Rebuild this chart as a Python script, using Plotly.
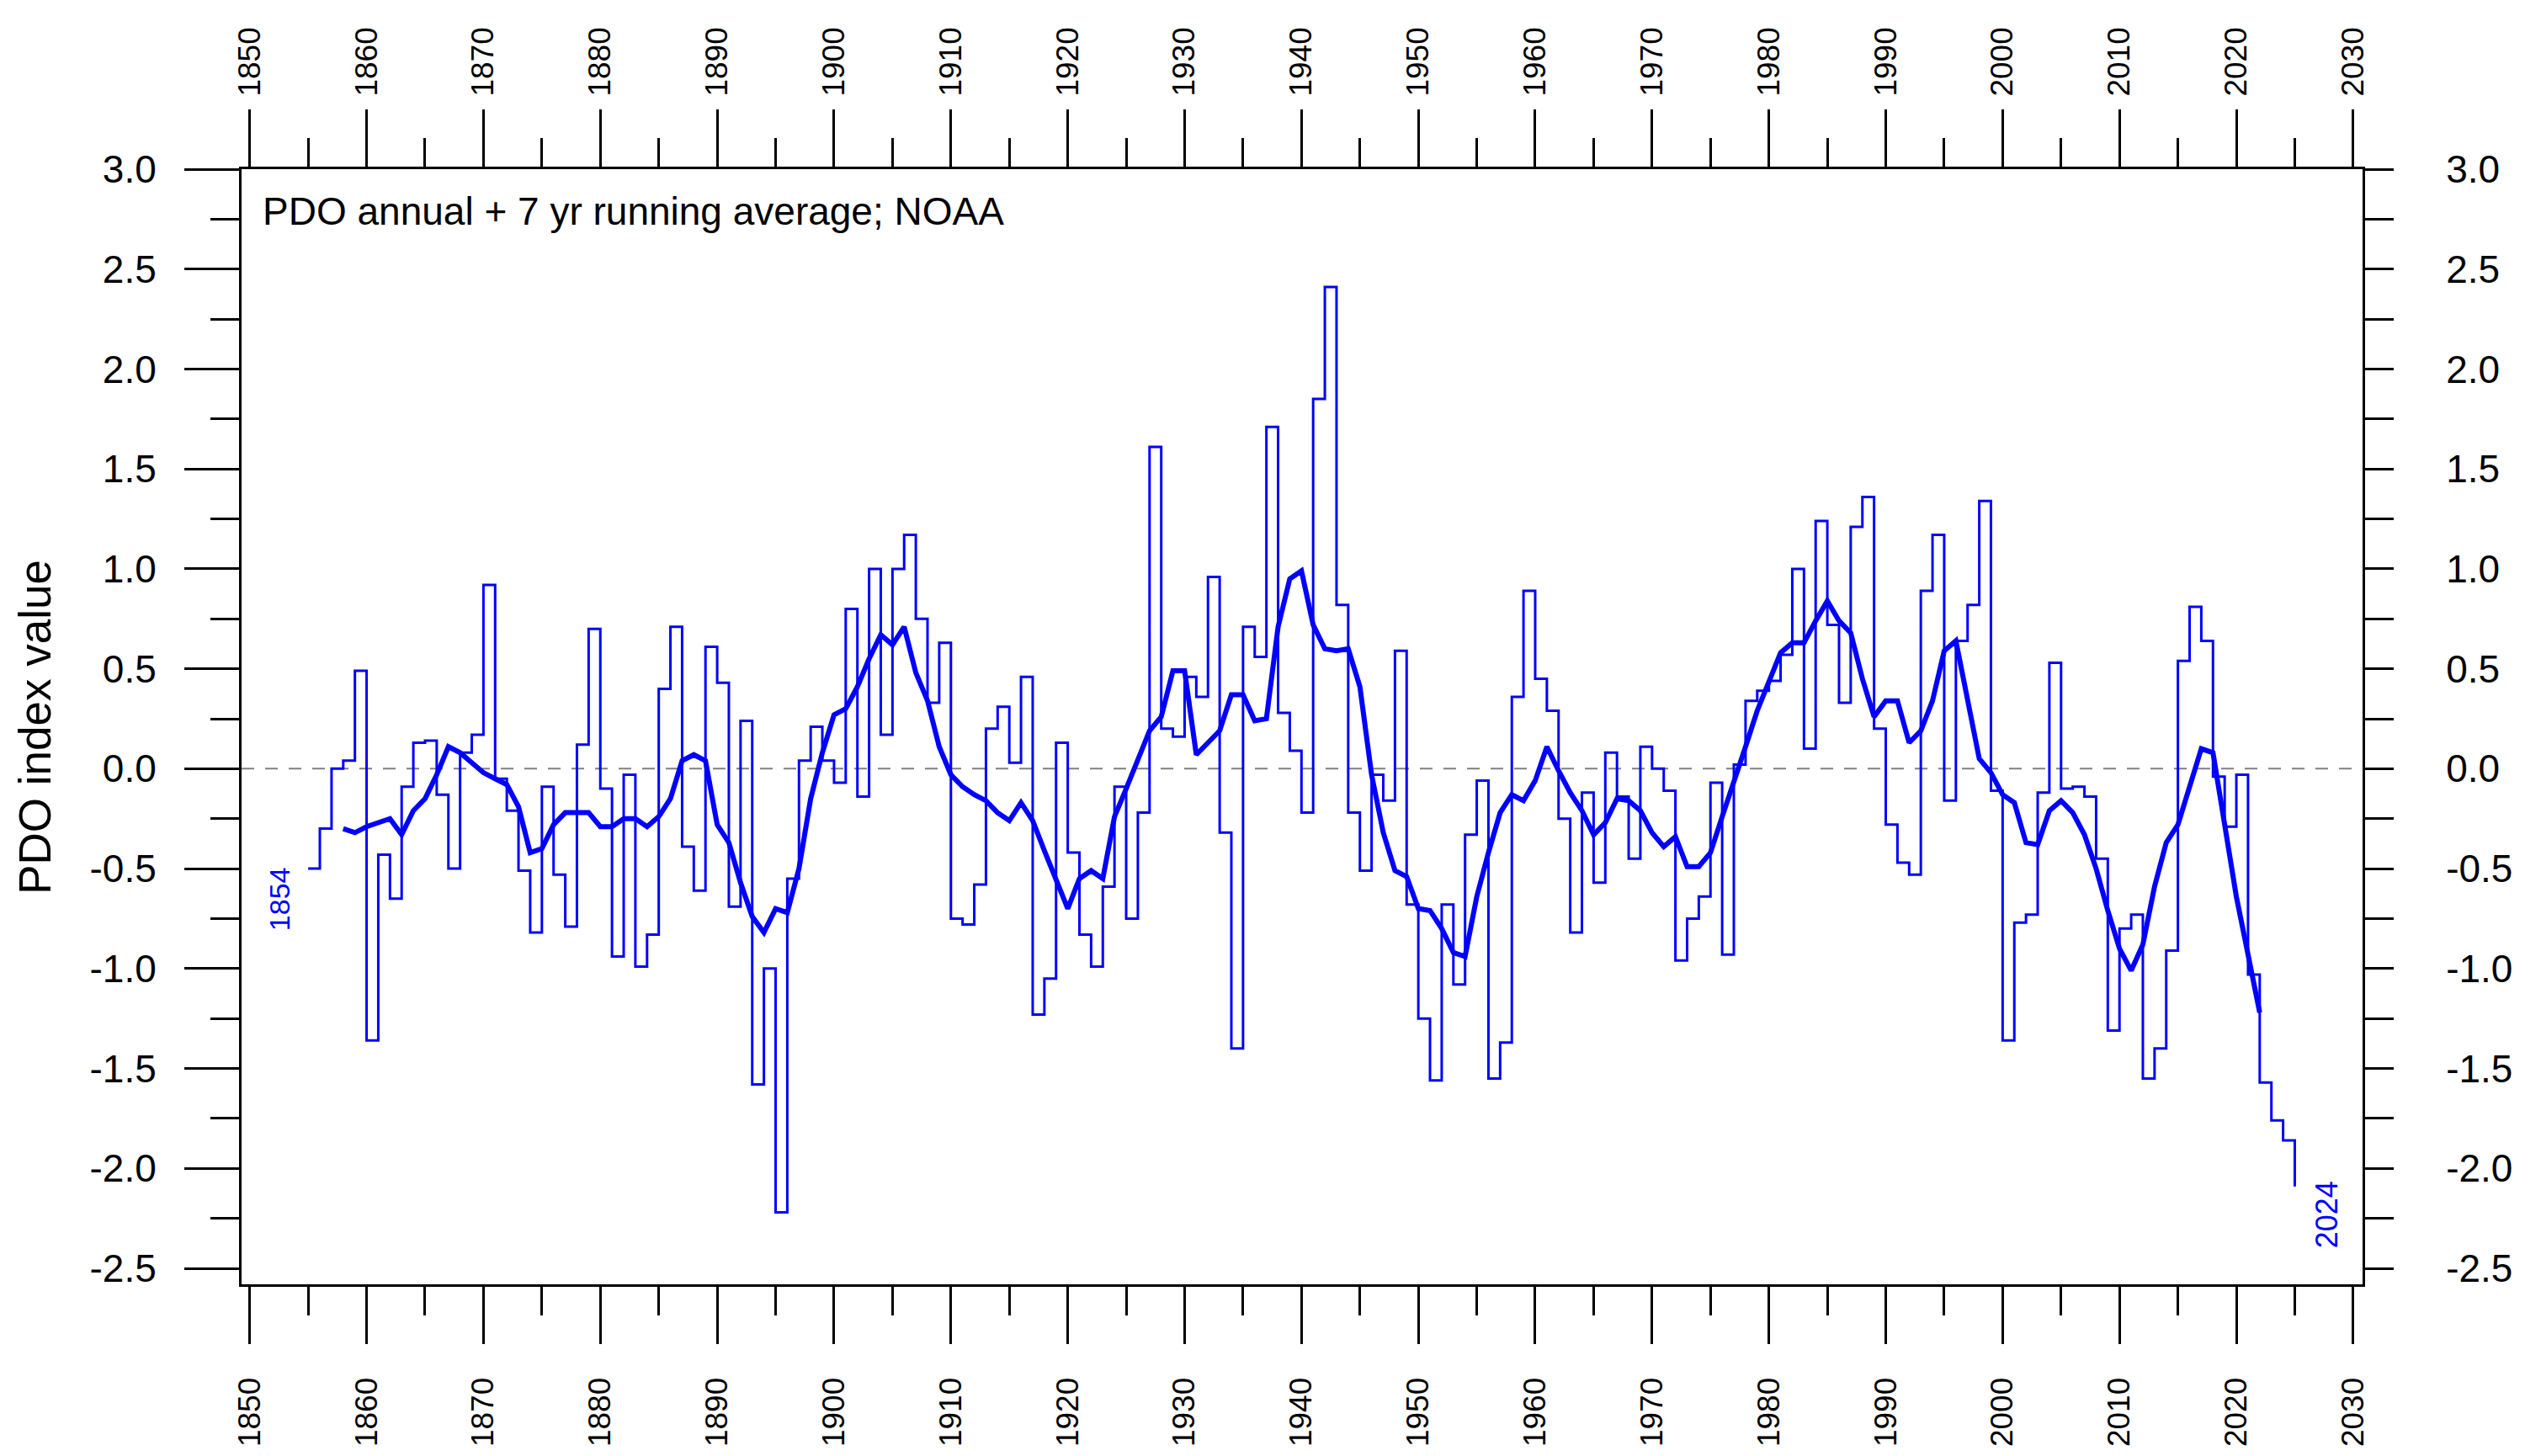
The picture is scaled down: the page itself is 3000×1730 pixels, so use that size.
import plotly.graph_objects as go

# ---- data ----
years = list(range(1854, 2025))
pdo_annual = [
    -0.50, -0.30, 0.00, 0.04, 0.49, -1.36, -0.43, -0.65, -0.09, 0.13,   # 1854-1863
    0.14, -0.13, -0.50, 0.08, 0.17, 0.92, -0.05, -0.21, -0.51, -0.82,   # 1864-1873
    -0.09, -0.53, -0.79, 0.12, 0.70, -0.10, -0.94, -0.03, -0.99, -0.83, # 1874-1883
    0.40, 0.71, -0.39, -0.61, 0.61, 0.43, -0.69, 0.24, -1.58, -1.00,    # 1884-1893
    -2.22, -0.55, 0.04, 0.21, 0.04, -0.07, 0.80, -0.14, 1.00, 0.17,     # 1894-1903
    1.00, 1.17, 0.75, 0.33, 0.63, -0.75, -0.78, -0.58, 0.20, 0.31,      # 1904-1913
    0.03, 0.46, -1.23, -1.05, 0.13, -0.42, -0.83, -0.99, -0.59, -0.09,  # 1914-1923
    -0.75, -0.22, 1.61, 0.20, 0.16, 0.46, 0.36, 0.96, -0.32, -1.40,     # 1924-1933
    0.71, 0.56, 1.71, 0.28, 0.09, -0.22, 1.85, 2.41, 0.82, -0.22,       # 1934-1943
    -0.51, -0.03, -0.16, 0.59, -0.68, -1.25, -1.56, -0.68, -1.08, -0.33,# 1944-1953
    -0.06, -1.55, -1.37, 0.36, 0.89, 0.45, 0.29, -0.25, -0.82, -0.12,   # 1954-1963
    -0.57, 0.08, -0.14, -0.45, 0.11, 0.00, -0.11, -0.96, -0.75, -0.64,  # 1964-1973
    -0.07, -0.93, 0.02, 0.34, 0.39, 0.44, 0.57, 1.00, 0.10, 1.24,       # 1974-1983
    0.72, 0.33, 1.21, 1.36, 0.20, -0.28, -0.47, -0.53, 0.89, 1.17,      # 1984-1993
    -0.16, 0.64, 0.82, 1.34, -0.11, -1.36, -0.77, -0.73, -0.12, 0.53,   # 1994-2003
    -0.10, -0.09, -0.14, -0.45, -1.31, -0.80, -0.73, -1.55, -1.40, -0.91,  # 2004-2013
    0.54, 0.81, 0.64, -0.04, -0.29, -0.03, -1.03, -1.57, -1.76, -1.86,  # 2014-2023
    -2.09,                                                              # 2024
]

# 7-yr running average, centre years 1857-2021
mean_years = list(range(1857, 2022))
pdo_7yr = [
    -0.30, -0.32, -0.29, -0.27, -0.25, -0.33, -0.21, -0.15, -0.03, 0.11,   # 1857-1866
    0.08, 0.03, -0.02, -0.05, -0.08, -0.19, -0.42, -0.40, -0.28, -0.22,    # 1867-1876
    -0.22, -0.22, -0.29, -0.29, -0.25, -0.25, -0.29, -0.24, -0.15, 0.04,   # 1877-1886
    0.07, 0.04, -0.28, -0.37, -0.57, -0.74, -0.82, -0.70, -0.72, -0.50,    # 1887-1896
    -0.15, 0.08, 0.27, 0.30, 0.41, 0.55, 0.67, 0.62, 0.71, 0.48,           # 1897-1906
    0.34, 0.11, -0.03, -0.09, -0.13, -0.16, -0.22, -0.26, -0.17, -0.26,    # 1907-1916
    -0.41, -0.55, -0.70, -0.55, -0.51, -0.55, -0.24, -0.10, 0.05, 0.19,    # 1917-1926
    0.26, 0.49, 0.49, 0.07, 0.13, 0.19, 0.37, 0.37, 0.24, 0.25,            # 1927-1936
    0.71, 0.95, 0.99, 0.72, 0.60, 0.59, 0.60, 0.41, -0.03, -0.32,          # 1937-1946
    -0.51, -0.54, -0.70, -0.71, -0.80, -0.92, -0.94, -0.64, -0.42, -0.22,  # 1947-1956
    -0.13, -0.16, -0.06, 0.11, -0.01, -0.12, -0.21, -0.33, -0.27, -0.15,   # 1957-1966
    -0.16, -0.21, -0.32, -0.39, -0.34, -0.49, -0.49, -0.42, -0.24, -0.07,  # 1967-1976
    0.11, 0.29, 0.43, 0.58, 0.63, 0.63, 0.74, 0.84, 0.74, 0.68,            # 1977-1986
    0.45, 0.26, 0.34, 0.34, 0.13, 0.19, 0.34, 0.59, 0.64, 0.36,            # 1987-1996
    0.05, -0.02, -0.13, -0.17, -0.37, -0.38, -0.21, -0.16, -0.22, -0.33,   # 1997-2006
    -0.50, -0.71, -0.90, -1.01, -0.88, -0.59, -0.37, -0.28, -0.09, 0.10,   # 2007-2016
    0.08, -0.28, -0.64, -0.93, -1.22,                                      # 2017-2021
]

y_tickvals = [3.0, 2.5, 2.0, 1.5, 1.0, 0.5, 0.0, -0.5, -1.0, -1.5, -2.0, -2.5]
x_tickvals = list(range(1850, 2031, 10))

title_text = "PDO annual + 7 yr running average; NOAA"
first_label, last_label = "1854", "2024"

BLUE = "#0000FF"
FONT = "Arial, Liberation Sans, sans-serif"

# the chart draws each annual value as a step starting one year after its label year
step_x = [y + 1 for y in years]
mean_x = [y + 1 for y in mean_years]

fig = go.Figure()
fig.add_trace(go.Scatter(x=step_x, y=pdo_annual, mode="lines",
                         line=dict(color=BLUE, width=3, shape="hv"),
                         showlegend=False, hoverinfo="skip"))
fig.add_trace(go.Scatter(x=mean_x, y=pdo_7yr, mode="lines", xaxis="x2", yaxis="y2",
                         line=dict(color=BLUE, width=6),
                         showlegend=False, hoverinfo="skip"))

X_RANGE = [1849.3, 2030.8]
Y_RANGE = [-2.58, 3.0]

xcommon = dict(range=X_RANGE, tickmode="array", tickvals=x_tickvals,
               ticktext=[str(v) for v in x_tickvals], ticks="outside", ticklen=68,
               tickwidth=3, tickcolor="black", showline=True, linewidth=3,
               linecolor="black", tickangle=-90, showgrid=False, zeroline=False,
               tickfont=dict(family=FONT, size=37, color="black"),
               minor=dict(tickmode="linear", tick0=1855, dtick=10, ticks="outside",
                          ticklen=34, tickwidth=3, tickcolor="black", showgrid=False))
ycommon = dict(range=Y_RANGE, tickmode="array", tickvals=y_tickvals,
               ticktext=[f"{v:.1f}" for v in y_tickvals], ticks="outside",
               tickwidth=3, tickcolor="black", showline=True, linewidth=3,
               linecolor="black", showgrid=False, zeroline=False,
               tickfont=dict(family=FONT, size=46, color="black"),
               minor=dict(tickmode="linear", tick0=0.25, dtick=0.5, ticks="outside",
                          ticklen=34, tickwidth=3, tickcolor="black", showgrid=False))

# page body has an 8px margin: figure is sized so that it fits the 3000x1730 window
fig.update_layout(
    width=2984, height=1714,
    margin=dict(l=279, r=185, t=193, b=196, autoexpand=False),
    paper_bgcolor="white", plot_bgcolor="white",
    xaxis=dict(**xcommon, side="bottom", anchor="y", ticklabelstandoff=25),
    xaxis2=dict(**xcommon, side="top", overlaying="x", matches="x", anchor="y2",
                ticklabelstandoff=8),
    yaxis=dict(**ycommon, ticklen=65, side="left", anchor="x", ticklabelstandoff=24),
    yaxis2=dict(**ycommon, ticklen=34, side="right", overlaying="y", matches="y",
                anchor="x2", ticklabelstandoff=53),
    shapes=[dict(type="line", xref="paper", yref="y", x0=0, x1=1, y0=0, y1=0,
                 line=dict(color="#808080", width=2, dash="15px,13px"), layer="below")],
    annotations=[
        dict(text=title_text, xref="paper", yref="paper", x=0.0091, y=0.962,
             xanchor="left", yanchor="middle", showarrow=False,
             font=dict(family=FONT, size=46, color="black")),
        dict(text="PDO index value", xref="paper", yref="paper", x=-0.0975, y=0.5,
             xanchor="center", yanchor="middle", textangle=-90, showarrow=False,
             font=dict(family=FONT, size=53, color="black")),
        dict(text=first_label, xref="x", yref="y", x=1852.5, y=-0.65,
             xanchor="center", yanchor="middle", textangle=-90, showarrow=False,
             font=dict(family=FONT, size=34, color=BLUE)),
        dict(text=last_label, xref="x", yref="y", x=2027.8, y=-2.23,
             xanchor="center", yanchor="middle", textangle=-90, showarrow=False,
             font=dict(family=FONT, size=36, color=BLUE)),
    ],
)

fig.write_html("out.html")
